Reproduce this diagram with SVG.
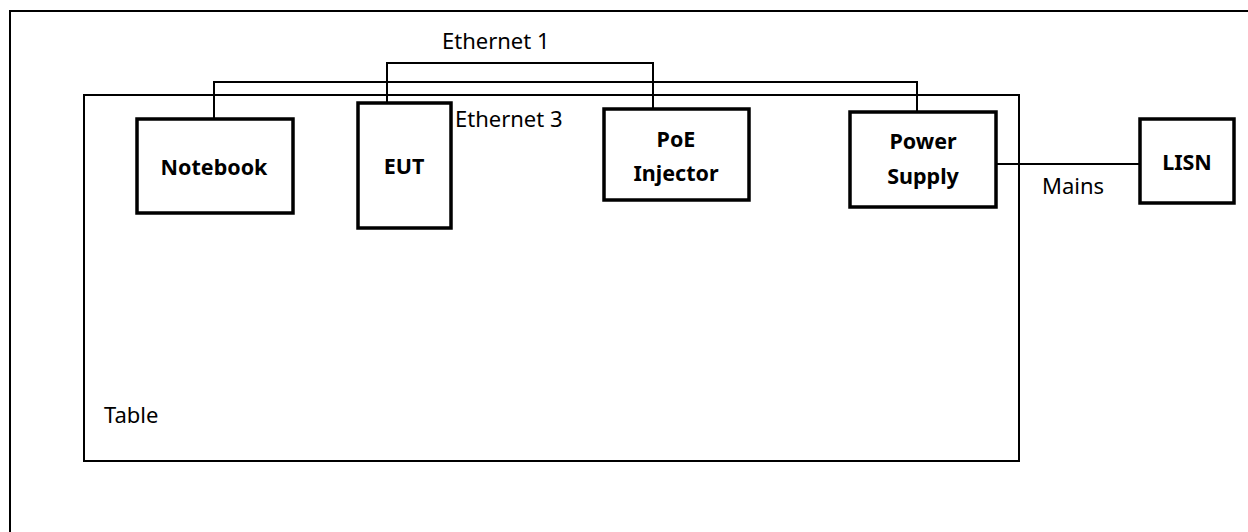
<svg xmlns="http://www.w3.org/2000/svg" width="1248" height="532" viewBox="0 0 1248 532">
  <style>
    .frame { fill: none; stroke: #000; stroke-width: 2; }
    .table { fill: none; stroke: #000; stroke-width: 2; }
    .box { fill: #fff; stroke: #000; stroke-width: 3.5; }
    .wire { fill: none; stroke: #000; stroke-width: 2; }
    .lbl { font-family: "Noto Sans", "Liberation Sans", sans-serif; font-size: 22px; fill: #000; }
    .name { font-family: "Noto Sans", "Liberation Sans", sans-serif; font-size: 21.5px; font-weight: bold; fill: #000; text-anchor: middle; }
  </style>

  <rect width="1248" height="532" fill="#fff"/>
  <!-- page frame -->
  <path class="frame" d="M10,532 V11 H1248"/>

  <!-- table outline -->
  <g id="table">
    <rect class="table" x="84" y="95" width="935" height="366"/>
    <text class="lbl" x="104" y="423">Table</text>
  </g>

  <!-- cabling -->
  <g id="connectors">
    <polyline class="wire" points="387,103 387,63 653,63 653,109"/>
    <polyline class="wire" points="214,119 214,82 917,82 917,112"/>
    <line class="wire" x1="996" y1="164" x2="1140" y2="164"/>
    <text class="lbl" x="442" y="49">Ethernet 1</text>
    <text class="lbl" x="455" y="127">Ethernet 3</text>
    <text class="lbl" x="1042" y="194">Mains</text>
  </g>

  <g id="notebook">
    <rect class="box" x="137" y="119" width="156" height="94"/>
    <text class="name" x="214" y="175">Notebook</text>
  </g>

  <g id="eut">
    <rect class="box" x="358" y="103" width="93" height="125"/>
    <text class="name" x="404" y="174">EUT</text>
  </g>

  <g id="poe-injector">
    <rect class="box" x="604" y="109" width="145" height="91"/>
    <text class="name" x="676" y="147">PoE</text>
    <text class="name" x="676" y="181">Injector</text>
  </g>

  <g id="power-supply">
    <rect class="box" x="850" y="112" width="146" height="95"/>
    <text class="name" x="923" y="149">Power</text>
    <text class="name" x="923" y="184">Supply</text>
  </g>

  <g id="lisn">
    <rect class="box" x="1140" y="119" width="94" height="84"/>
    <text class="name" x="1187" y="170">LISN</text>
  </g>
</svg>
